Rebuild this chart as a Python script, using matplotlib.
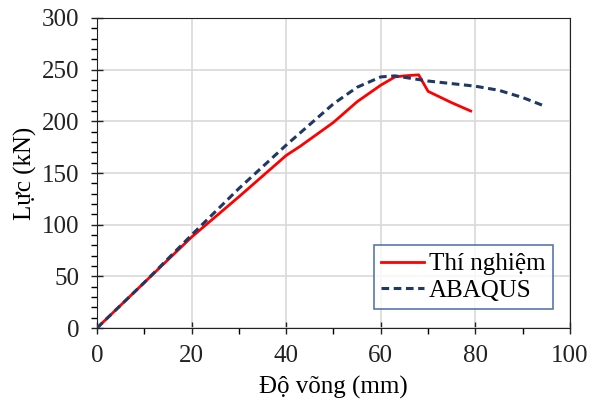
import matplotlib
matplotlib.use('Agg')
import matplotlib.pyplot as plt
from matplotlib.ticker import MultipleLocator

# %% Données

x_tn = [0, 10, 20, 30, 40, 43, 50, 55, 60, 63, 65, 68, 69, 70, 75, 79]
y_tn = [0, 44, 88, 127, 167, 176, 199, 219, 235, 243, 244, 245, 237, 229, 218, 210]

x_ab = [0, 10, 20, 30, 40, 45, 50, 55, 60, 63, 70, 80, 85, 90, 94.5]
y_ab = [0, 44, 90, 135, 177, 197, 217, 233, 243, 244, 239, 234, 230, 223, 215]

plt.rcParams['font.family'] = ['Liberation Serif', 'DejaVu Serif']

# %% Tracé

fig = plt.figure(figsize=(5.95, 4.09), dpi=100)
ax = fig.add_axes([0.163, 0.198, 0.795, 0.758])

ax.plot(x_tn, y_tn, color='#FF0000', lw=2, label='Thí nghiệm', zorder=3)
ax.plot(x_ab, y_ab, color='#1F3864', lw=2.2, ls=(0, (2.5, 1.5)), label='ABAQUS', zorder=3)

ax.set_xlim(0, 100)
ax.set_ylim(0, 300)
ax.xaxis.set_major_locator(MultipleLocator(20))
ax.xaxis.set_minor_locator(MultipleLocator(10))
ax.yaxis.set_major_locator(MultipleLocator(50))
ax.yaxis.set_minor_locator(MultipleLocator(10))
ax.grid(True, which='major', color='#D9D9D9', lw=1.2)
ax.set_axisbelow(True)
ax.tick_params(which='major', direction='inout', length=9, width=1, labelsize=18,
               colors='#222222', pad=8)
ax.tick_params(which='minor', direction='out', length=4, width=1)
for s in ax.spines.values():
    s.set_color('#222222')

ax.set_xlabel('Độ võng (mm)', fontsize=18, labelpad=6)
ax.set_ylabel('Lực (kN)', fontsize=18, labelpad=4)

leg = ax.legend(loc='lower right', bbox_to_anchor=(0.964, 0.061), fontsize=18,
                frameon=True, fancybox=False, handlelength=1.7, handletextpad=0.2,
                borderpad=0.3, labelspacing=0.15, borderaxespad=0)
leg.get_frame().set_edgecolor('#2F5597')
leg.get_frame().set_linewidth(1.2)

fig.savefig('out.png', dpi=100)
